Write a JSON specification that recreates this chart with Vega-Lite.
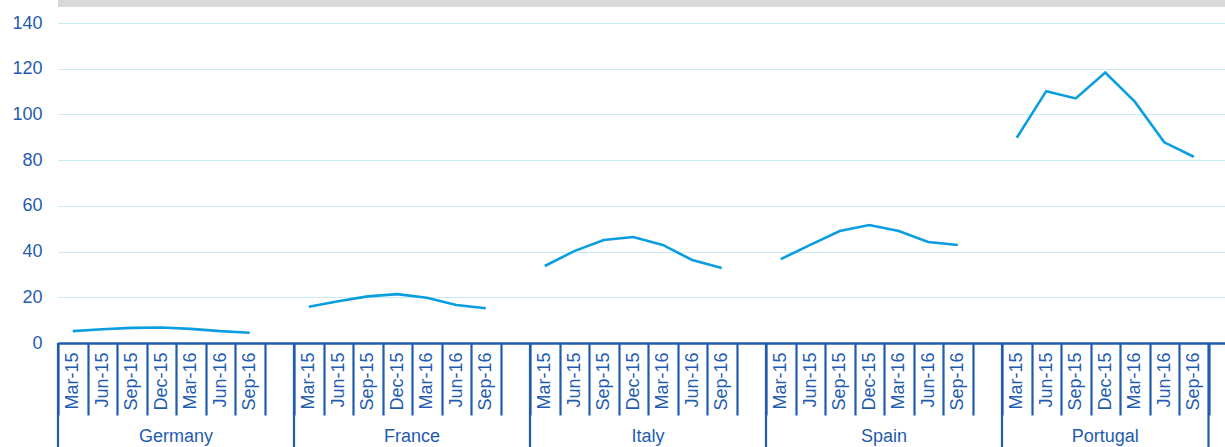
{
  "$schema": "https://vega.github.io/schema/vega-lite/v6.json",
  "width": 1167,
  "height": 320,
  "autosize": {"type": "none"},
  "padding": {"left": 58, "top": 23, "right": 0, "bottom": 104},
  "background": "white",
  "config": {
    "view": {"stroke": null},
    "font": "Liberation Sans"
  },
  "datasets": {
    "series": [
      {"cat": "Germany|Mar-15", "country": "Germany", "value": 5.2},
      {"cat": "Germany|Jun-15", "country": "Germany", "value": 6.0},
      {"cat": "Germany|Sep-15", "country": "Germany", "value": 6.6},
      {"cat": "Germany|Dec-15", "country": "Germany", "value": 6.8},
      {"cat": "Germany|Mar-16", "country": "Germany", "value": 6.2},
      {"cat": "Germany|Jun-16", "country": "Germany", "value": 5.2},
      {"cat": "Germany|Sep-16", "country": "Germany", "value": 4.5},
      {"cat": "France|Mar-15", "country": "France", "value": 15.9},
      {"cat": "France|Jun-15", "country": "France", "value": 18.3},
      {"cat": "France|Sep-15", "country": "France", "value": 20.4},
      {"cat": "France|Dec-15", "country": "France", "value": 21.4},
      {"cat": "France|Mar-16", "country": "France", "value": 19.8},
      {"cat": "France|Jun-16", "country": "France", "value": 16.6},
      {"cat": "France|Sep-16", "country": "France", "value": 15.2},
      {"cat": "Italy|Mar-15", "country": "Italy", "value": 33.7},
      {"cat": "Italy|Jun-15", "country": "Italy", "value": 40.2},
      {"cat": "Italy|Sep-15", "country": "Italy", "value": 45.1},
      {"cat": "Italy|Dec-15", "country": "Italy", "value": 46.4},
      {"cat": "Italy|Mar-16", "country": "Italy", "value": 42.9},
      {"cat": "Italy|Jun-16", "country": "Italy", "value": 36.3},
      {"cat": "Italy|Sep-16", "country": "Italy", "value": 32.8},
      {"cat": "Spain|Mar-15", "country": "Spain", "value": 36.7},
      {"cat": "Spain|Jun-15", "country": "Spain", "value": 42.9},
      {"cat": "Spain|Sep-15", "country": "Spain", "value": 49.0},
      {"cat": "Spain|Dec-15", "country": "Spain", "value": 51.6},
      {"cat": "Spain|Mar-16", "country": "Spain", "value": 49.0},
      {"cat": "Spain|Jun-16", "country": "Spain", "value": 44.2},
      {"cat": "Spain|Sep-16", "country": "Spain", "value": 42.9},
      {"cat": "Portugal|Mar-15", "country": "Portugal", "value": 89.8},
      {"cat": "Portugal|Jun-15", "country": "Portugal", "value": 110.2},
      {"cat": "Portugal|Sep-15", "country": "Portugal", "value": 107.0},
      {"cat": "Portugal|Dec-15", "country": "Portugal", "value": 118.3},
      {"cat": "Portugal|Mar-16", "country": "Portugal", "value": 105.6},
      {"cat": "Portugal|Jun-16", "country": "Portugal", "value": 87.8},
      {"cat": "Portugal|Sep-16", "country": "Portugal", "value": 81.5}
    ],
    "groups": [
      {"country": "Germany", "anchor": "Germany|Mar-16"},
      {"country": "France", "anchor": "France|Mar-16"},
      {"country": "Italy", "anchor": "Italy|Mar-16"},
      {"country": "Spain", "anchor": "Spain|Mar-16"}
    ],
    "lastgroup": [
      {"country": "Portugal", "anchor": "Portugal|Dec-15"}
    ],
    "separators": [
      {"start": "Germany|Mar-15"},
      {"start": "France|Mar-15"},
      {"start": "Italy|Mar-15"},
      {"start": "Spain|Mar-15"},
      {"start": "Portugal|Mar-15"},
      {"start": "End|"}
    ],
    "band": [{"name": "top"}]
  },
  "layer": [
    {
      "data": {"name": "series"},
      "mark": {"type": "line", "color": "#0a9de0", "strokeWidth": 2.6},
      "encoding": {
        "x": {
          "field": "cat",
          "type": "nominal",
          "sort": null,
          "scale": {
            "domain": [
              "Germany|Mar-15","Germany|Jun-15","Germany|Sep-15","Germany|Dec-15","Germany|Mar-16","Germany|Jun-16","Germany|Sep-16","Germany|",
              "France|Mar-15","France|Jun-15","France|Sep-15","France|Dec-15","France|Mar-16","France|Jun-16","France|Sep-16","France|",
              "Italy|Mar-15","Italy|Jun-15","Italy|Sep-15","Italy|Dec-15","Italy|Mar-16","Italy|Jun-16","Italy|Sep-16","Italy|",
              "Spain|Mar-15","Spain|Jun-15","Spain|Sep-15","Spain|Dec-15","Spain|Mar-16","Spain|Jun-16","Spain|Sep-16","Spain|",
              "Portugal|Mar-15","Portugal|Jun-15","Portugal|Sep-15","Portugal|Dec-15","Portugal|Mar-16","Portugal|Jun-16","Portugal|Sep-16","End|"
            ],
            "range": [0, 1180],
            "paddingInner": 0,
            "paddingOuter": 0
          },
          "axis": {
            "title": null,
            "labelExpr": "split(datum.value, '|')[1]",
            "labelAngle": 270,
            "labelAlign": "right",
            "labelBaseline": "middle",
            "labelFontSize": 18,
            "labelColor": "#1f5cb0",
            "labelPadding": -63,
            "labelOverlap": false,
            "labelBound": false,
            "labelFlush": false,
            "tickBand": "extent",
            "tickColor": "#1f5cb0",
            "tickWidth": 2.2,
            "tickSize": 72,
            "domainColor": "#1f5cb0",
            "domainWidth": 2.4,
            "grid": false
          }
        },
        "y": {
          "field": "value",
          "type": "quantitative",
          "scale": {"domain": [0, 140], "nice": false, "zero": true},
          "axis": {
            "title": null,
            "values": [0, 20, 40, 60, 80, 100, 120, 140],
            "labelFontSize": 18,
            "labelColor": "#1f5cb0",
            "labelPadding": 16,
            "ticks": false,
            "domain": false,
            "grid": true,
            "gridColor": "#c6ebf9",
            "gridWidth": 1.2
          }
        },
        "detail": {"field": "country"}
      }
    },
    {
      "data": {"name": "separators"},
      "mark": {"type": "rule", "color": "#1f5cb0", "strokeWidth": 2.2},
      "encoding": {
        "x": {"field": "start", "type": "nominal", "bandPosition": 0},
        "y": {"datum": 0, "type": "quantitative"},
        "y2": {"datum": -48}
      }
    },
    {
      "data": {"name": "groups"},
      "mark": {"type": "text", "fontSize": 18, "color": "#1f5cb0", "baseline": "middle", "align": "center"},
      "encoding": {
        "x": {"field": "anchor", "type": "nominal", "bandPosition": 0},
        "y": {"datum": -41, "type": "quantitative"},
        "text": {"field": "country"}
      }
    },
    {
      "data": {"name": "lastgroup"},
      "mark": {"type": "text", "fontSize": 18, "color": "#1f5cb0", "baseline": "middle", "align": "center"},
      "encoding": {
        "x": {"field": "anchor", "type": "nominal", "bandPosition": 0.5},
        "y": {"datum": -41, "type": "quantitative"},
        "text": {"field": "country"}
      }
    },
    {
      "data": {"name": "band"},
      "mark": {"type": "rect", "color": "#d9d9d9"},
      "encoding": {
        "y": {"datum": 147, "type": "quantitative"},
        "y2": {"datum": 151}
      }
    }
  ]
}
